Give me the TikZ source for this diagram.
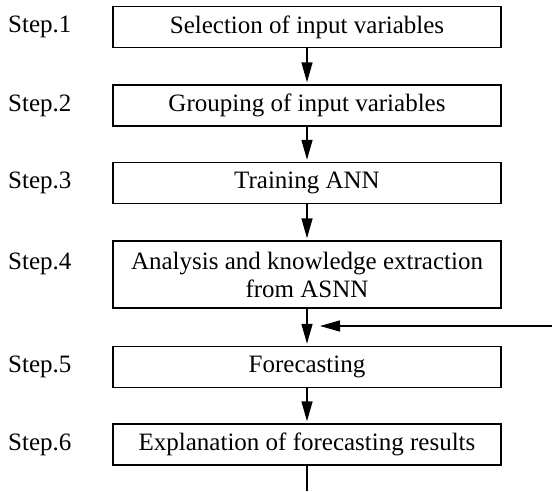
\documentclass[tikz,border=0pt]{standalone}
\usepackage{fontspec}
\setmainfont{Liberation Serif}
\usetikzlibrary{arrows.meta}
\begin{document}
\begin{tikzpicture}[x=1pt,y=1pt,
  stepbox/.style={draw, line width=1.4pt, minimum width=388pt, minimum height=41pt,
    inner sep=0pt, align=center, font=\fontsize{25}{28}\selectfont},
  steplabel/.style={anchor=west, inner sep=0pt, font=\fontsize{25}{28}\selectfont},
  flow/.style={line width=1.4pt, -{Triangle[length=20pt,width=11pt]}, shorten >=2pt},
  plain/.style={line width=1.4pt}]
\useasboundingbox (0,0) rectangle (552,-491);
\node[stepbox] (b1) at (307,-27) {Selection of input variables};
\node[stepbox] (b2) at (307,-105.5) {Grouping of input variables};
\node[stepbox] (b3) at (307,-183) {Training ANN};
\node[stepbox, minimum height=67pt] (b4) at (307,-274.5) {Analysis and knowledge extraction\\from ASNN};
\node[stepbox] (b5) at (307,-367) {Forecasting};
\node[stepbox] (b6) at (307,-444.5) {Explanation of forecasting results};
\node[steplabel] (s1) at (8,-27) {Step.1};
\node[steplabel] (s2) at (8,-105.5) {Step.2};
\node[steplabel] (s3) at (8,-183) {Step.3};
\node[steplabel] (s4) at (8,-264) {Step.4};
\node[steplabel] (s5) at (8,-367) {Step.5};
\node[steplabel] (s6) at (8,-444.5) {Step.6};
\coordinate (fbin) at (552,-326);
\coordinate (fbout) at (320,-326);
\coordinate (endp) at (307,-491);
\draw[flow] (b1) -- (b2);
\draw[flow] (b2) -- (b3);
\draw[flow] (b3) -- (b4);
\draw[flow] (b4) -- (b5);
\draw[flow, shorten >=0pt] (fbin) -- (fbout);
\draw[flow] (b5) -- (b6);
\draw[plain] (b6) -- (endp);
\end{tikzpicture}
\end{document}
